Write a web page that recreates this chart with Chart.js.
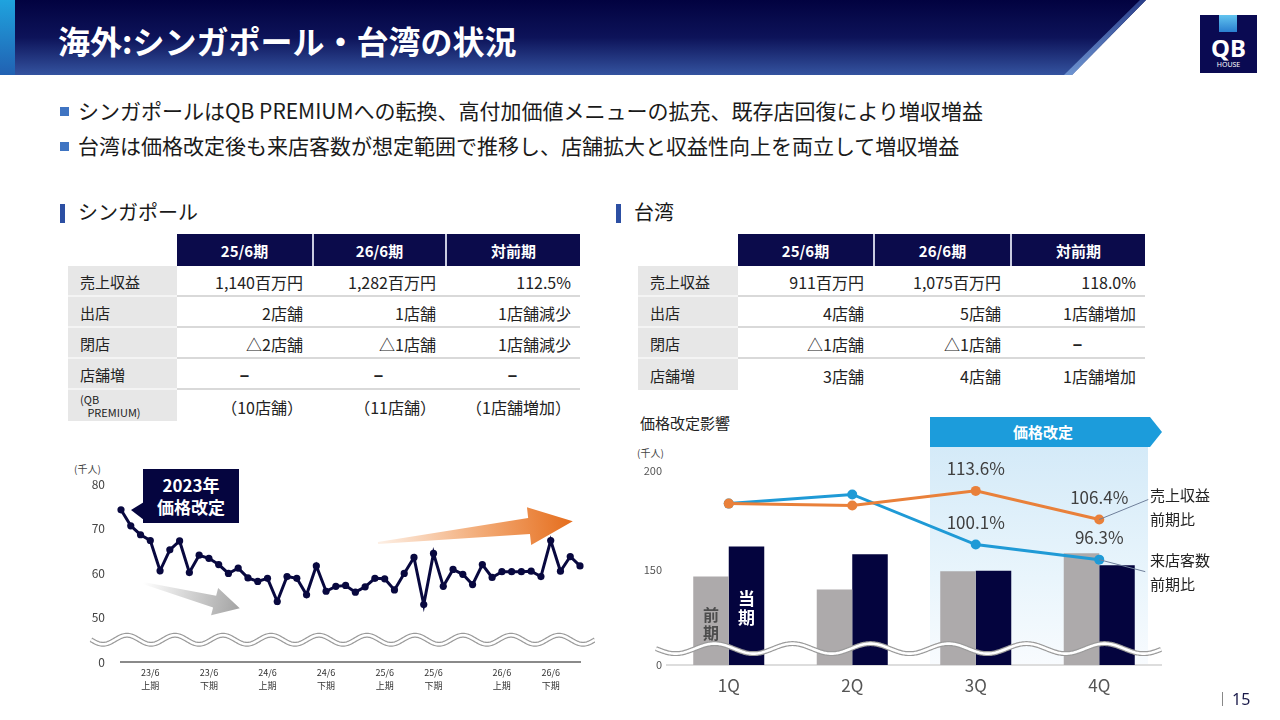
<!DOCTYPE html>
<html lang="ja">
<head>
<meta charset="utf-8">
<script src="https://cdn.jsdelivr.net/npm/chart.js@4.4.1/dist/chart.umd.min.js"></script>
<style>
  body { margin: 0; width: 1280px; height: 720px; overflow: hidden; background: #fff; position: relative;
         font-family: "Noto Sans CJK JP", sans-serif; color: #222; }
  .abs { position: absolute; }
  .title { left: 58px; top: 20px; height: 40px; line-height: 40px; font-size: 32px; font-weight: bold; color: #fff; white-space: nowrap; }
  .bullet { left: 60px; font-size: 21px; line-height: 30px; white-space: nowrap; color: #1a1a1a; }
  .bullet::before { content: ""; display: inline-block; width: 9px; height: 9px; background: #3f74c2; margin-right: 9px; vertical-align: 3px; }
  .sec { font-size: 20px; line-height: 28px; color: #1a1a1a; }
  .sec::before { content: ""; display: inline-block; width: 5px; height: 19px; background: #2c4fa3; margin-right: 13px; vertical-align: -3px; }
  .tbl { display: grid; font-size: 15px; }
  .tbl div { display: flex; align-items: center; white-space: nowrap; box-sizing: border-box; }
  .hd { background: #0b0b4b; color: #fff; font-weight: bold; justify-content: center; }
  .hd.sep { border-left: 2px solid #c9cbe0; }
  .lb { background: #e7e7e7; padding-left: 12px; padding-top: 2px; color: #222; }
  .vl { justify-content: flex-end; padding-right: 9px; padding-top: 2px; color: #222; font-size: 16px; }
  .vl.c { justify-content: center; padding-right: 0; font-weight: bold; }
  .line { border-bottom: 2px solid #d9d9d9; }
  .lb.line { border-bottom: 2px solid #f4f4f4; }
  .small { font-size: 11px; line-height: 13px; display: block !important; padding-top: 3px; }
  canvas { position: absolute; }
</style>
</head>
<body>

<!-- header band -->
<svg class="abs" style="left:0;top:0" width="1280" height="80">
  <defs>
    <linearGradient id="hg" x1="0" y1="0" x2="0" y2="1">
      <stop offset="0" stop-color="#020240"/>
      <stop offset="0.5" stop-color="#0d1359"/>
      <stop offset="1" stop-color="#34539f"/>
    </linearGradient>
    <linearGradient id="sg" x1="0" y1="0" x2="0" y2="1">
      <stop offset="0" stop-color="#1fa3de"/>
      <stop offset="1" stop-color="#2161b2"/>
    </linearGradient>
    <linearGradient id="eg" x1="0" y1="0" x2="0" y2="1">
      <stop offset="0" stop-color="#2a3f8a"/>
      <stop offset="1" stop-color="#6d93d0"/>
    </linearGradient>
  </defs>
  <polygon points="0,0 1146,0 1072,75 0,75" fill="url(#hg)"/>
  <polygon points="1140,0 1146,0 1072,75 1064,75" fill="url(#eg)"/>
  <rect x="0" y="0" width="15" height="75" fill="url(#sg)"/>
</svg>
<div class="abs title">海外:シンガポール・台湾の状況</div>

<!-- logo -->
<div class="abs" style="left:1200px;top:15px;width:57px;height:58px;background:#0a0a52;">
  <div class="abs" style="left:19px;top:0;width:18px;height:17px;background:linear-gradient(#62c4ef,#2a7fd0);"></div>
  <div class="abs" style="left:0;top:20px;width:57px;text-align:center;color:#fff;font:bold 24px/26px 'Noto Sans',sans-serif;">QB</div>
  <div class="abs" style="left:0;top:46px;width:57px;text-align:center;color:#fff;font:7px/8px 'Noto Sans',sans-serif;">HOUSE</div>
</div>

<div class="abs bullet" style="top:95px">シンガポールはQB PREMIUMへの転換、高付加価値メニューの拡充、既存店回復により増収増益</div>
<div class="abs bullet" style="top:130px">台湾は価格改定後も来店客数が想定範囲で推移し、店舗拡大と収益性向上を両立して増収増益</div>

<div class="abs sec" style="left:60px;top:198px">シンガポール</div>
<div class="abs sec" style="left:616px;top:198px">台湾</div>

<div id="sgTable" class="abs tbl" style="left:68px;top:234px;grid-template-columns:109px 135px 133px 135px;grid-template-rows:32px repeat(5,31px);"></div>
<div id="twTable" class="abs tbl" style="left:638px;top:234px;grid-template-columns:100px 135px 137px 135px;grid-template-rows:32px repeat(4,31px);"></div>

<!-- Singapore chart -->
<div class="abs" style="left:74px;top:461px;font-size:10px;color:#444;">(千人)</div>
<canvas id="sgChart" style="left:50px;top:460px;width:545px;height:240px;" width="545" height="240"></canvas>
<svg class="abs" style="left:0;top:440px" width="620" height="200">
  <defs>
    <linearGradient id="ga" x1="0" y1="0" x2="1" y2="0">
      <stop offset="0" stop-color="#ffffff"/>
      <stop offset="1" stop-color="#a3a3a3"/>
    </linearGradient>
    <linearGradient id="oa" x1="0" y1="0" x2="1" y2="0">
      <stop offset="0" stop-color="#fdf0e6"/>
      <stop offset="0.55" stop-color="#f2a872"/>
      <stop offset="1" stop-color="#e56d1c"/>
    </linearGradient>
  </defs>
  <g transform="translate(143,143) rotate(14.6)">
    <polygon points="0,-1 74,-6 74,-14 100,0 74,14 74,6 0,1" fill="url(#ga)"/>
  </g>
  <g transform="translate(378,103) rotate(-6.4)">
    <polygon points="0,-1 152,-8 152,-19 196,0 152,19 152,8 0,1" fill="url(#oa)"/>
  </g>
  <polygon points="131,70 144,62 144,80" fill="#05053f"/>
  <rect x="143" y="29" width="96" height="54" fill="#05053f"/>
  <text x="191" y="52" text-anchor="middle" fill="#fff" font-size="17" font-weight="bold" font-family="Noto Sans CJK JP">2023年</text>
  <text x="191" y="74" text-anchor="middle" fill="#fff" font-size="17" font-weight="bold" font-family="Noto Sans CJK JP">価格改定</text>
</svg>

<!-- Taiwan chart -->
<div class="abs" style="left:640px;top:412px;font-size:15px;color:#222;">価格改定影響</div>
<div class="abs" style="left:930px;top:447px;width:218px;height:218px;background:linear-gradient(#d4eaf8,#e9f5fc 60%,#f8fbfe);"></div>
<svg class="abs" style="left:920px;top:410px" width="260" height="45">
  <polygon points="10,7 230,7 242,22 230,37 10,37" fill="#1c9cdb"/>
  <text x="123" y="28" text-anchor="middle" fill="#fff" font-size="15" font-weight="bold" font-family="Noto Sans CJK JP">価格改定</text>
</svg>
<div class="abs" style="left:637px;top:445px;font-size:10px;color:#444;">(千人)</div>
<canvas id="twChart" style="left:620px;top:440px;width:560px;height:260px;" width="560" height="260"></canvas>
<div class="abs" style="left:1150px;top:483px;font-size:15px;line-height:24px;color:#222;">売上収益<br>前期比</div>
<div class="abs" style="left:1150px;top:548px;font-size:15px;line-height:24px;color:#222;">来店客数<br>前期比</div>

<div class="abs" style="left:1222px;top:692px;width:1px;height:14px;background:#888;"></div>
<div class="abs" style="left:1232px;top:688px;font:16px/22px 'Noto Sans',sans-serif;color:#1a1a4a;">15</div>

<script>
// ---- tables ----
const tableHead = ['25/6期', '26/6期', '対前期'];
const sgRows = [
  ['売上収益', '1,140百万円', '1,282百万円', '112.5%'],
  ['出店', '2店舗', '1店舗', '1店舗減少'],
  ['閉店', '△2店舗', '△1店舗', '1店舗減少'],
  ['店舗増', '−', '−', '−'],
  ['(QB PREMIUM)', '（10店舗）', '（11店舗）', '（1店舗増加）'],
];
const twRows = [
  ['売上収益', '911百万円', '1,075百万円', '118.0%'],
  ['出店', '4店舗', '5店舗', '1店舗増加'],
  ['閉店', '△1店舗', '△1店舗', '−'],
  ['店舗増', '3店舗', '4店舗', '1店舗増加'],
];

// ---- Singapore monthly visitors (千人) ----
const sgVisitors = [
  74.2, 70.6, 68.6, 67.3, 60.5, 65.2, 67.2, 60.1, 64.0, 63.3, 61.9, 59.9,
  61.1, 58.9, 58.1, 58.8, 53.6, 59.2, 58.8, 55.1, 61.6, 55.9, 57.0, 57.2,
  55.7, 56.9, 58.8, 58.7, 56.2, 59.9, 63.5, 52.9, 64.4, 57.0, 60.8, 59.7,
  57.4, 61.9, 59.0, 60.3, 60.3, 60.3, 60.4, 59.2, 67.3, 60.4, 63.7, 61.6,
];
const sgHalfLabels = [
  ['23/6', '上期'], ['23/6', '下期'], ['24/6', '上期'], ['24/6', '下期'],
  ['25/6', '上期'], ['25/6', '下期'], ['26/6', '上期'], ['26/6', '下期'],
];
const sgHalfLabelAt = [3, 9, 15, 21, 27, 32, 39, 44];

// ---- Taiwan quarterly ----
const twQuarters = ['1Q', '2Q', '3Q', '4Q'];
const twVisitorsPrev = [146.5, 140.0, 149.2, 158.3];
const twVisitorsCurr = [161.8, 157.8, 149.4, 152.3];
const twSalesYoY = [110.4, 109.9, 113.6, 106.4];
const twVisitorsYoY = [110.4, 112.7, 100.1, 96.3];
const twRevisionFrom = 2; // price revision from 3Q

function renderTable(el, rows) {
  let html = '<div></div>' + tableHead.map((h, i) => `<div class="hd${i ? ' sep' : ''}">${h}</div>`).join('');
  rows.forEach((r, ri) => {
    const line = ri < rows.length - 1 ? ' line' : '';
    if (r[0].startsWith('(')) {
      html += `<div class="lb small${line}">(QB<br>&nbsp;&nbsp;&nbsp;PREMIUM)</div>`;
    } else {
      html += `<div class="lb${line}">${r[0]}</div>`;
    }
    r.slice(1).forEach((v) => {
      html += `<div class="vl${v === '−' ? ' c' : ''}${line}">${v}</div>`;
    });
  });
  el.innerHTML = html;
}
renderTable(document.getElementById('sgTable'), sgRows);
renderTable(document.getElementById('twTable'), twRows);

Chart.defaults.font.family = '"Noto Sans CJK JP", sans-serif';
Chart.defaults.animation = false;

function wavePath(ctx, x0, x1, y, amp, period) {
  ctx.beginPath();
  for (let x = x0; x <= x1; x += 1) {
    const yy = y + amp * Math.sin(((x - x0) / period) * 2 * Math.PI);
    if (x === x0) ctx.moveTo(x, yy); else ctx.lineTo(x, yy);
  }
}
function drawBreak(ctx, x0, x1, y, amp, period) {
  ctx.save();
  wavePath(ctx, x0, x1, y, amp, period);
  ctx.strokeStyle = '#9a9a9a';
  ctx.lineWidth = 5;
  ctx.stroke();
  wavePath(ctx, x0, x1, y, amp, period);
  ctx.strokeStyle = '#ffffff';
  ctx.lineWidth = 2.6;
  ctx.stroke();
  ctx.restore();
}

const sgLabels = sgVisitors.map((_, i) => {
  const k = sgHalfLabelAt.indexOf(i);
  return k >= 0 ? sgHalfLabels[k] : '';
});

new Chart(document.getElementById('sgChart'), {
  type: 'line',
  data: {
    labels: sgLabels,
    datasets: [{
      data: sgVisitors,
      borderColor: '#08083f',
      backgroundColor: '#08083f',
      borderWidth: 3,
      pointRadius: 3.6,
      pointBorderWidth: 0,
      tension: 0,
    }],
  },
  options: {
    responsive: false,
    layout: { padding: { left: 21, right: 15, top: 24, bottom: 0 } },
    plugins: { legend: { display: false }, tooltip: { enabled: false } },
    scales: {
      x: {
        offset: false,
        grid: { display: false, drawTicks: false },
        border: { color: '#8a8a8a', width: 2 },
        ticks: { autoSkip: false, maxRotation: 0, padding: 5, color: '#333', font: { size: 9, lineHeight: 1.35 } },
        afterFit: (s) => { s.height = 38; },
      },
      y: {
        min: 40,
        max: 80,
        grid: { display: false, drawTicks: false },
        border: { display: false },
        ticks: { stepSize: 10, padding: 16, color: '#444', font: { size: 12 },
                 callback: (v) => (v === 40 ? '0' : v) },
        afterFit: (s) => { s.width = 50; },
      },
    },
  },
  plugins: [{
    id: 'sgBreak',
    afterDraw(chart) {
      const y = chart.scales.y.getPixelForValue(45);
      drawBreak(chart.ctx, 41, chart.width, y, 4.5, 48);
    },
  }],
});

new Chart(document.getElementById('twChart'), {
  type: 'bar',
  data: {
    labels: twQuarters,
    datasets: [
      { type: 'line', label: '売上収益前期比', data: twSalesYoY, yAxisID: 'y2', order: 0,
        borderColor: '#e9803a', backgroundColor: '#e9803a', borderWidth: 3, pointRadius: 5, pointBorderWidth: 0 },
      { type: 'line', label: '来店客数前期比', data: twVisitorsYoY, yAxisID: 'y2', order: 0,
        borderColor: '#1f9ad6', backgroundColor: '#1f9ad6', borderWidth: 3, pointRadius: 5, pointBorderWidth: 0 },
      { label: '前期', data: twVisitorsPrev, backgroundColor: '#adaaab', order: 1,
        categoryPercentage: 0.575, barPercentage: 1.0 },
      { label: '当期', data: twVisitorsCurr, backgroundColor: '#04043e', order: 1,
        categoryPercentage: 0.575, barPercentage: 1.0 },
    ],
  },
  options: {
    responsive: false,
    layout: { padding: { left: 7, right: 19, top: 31, bottom: 0 } },
    plugins: { legend: { display: false }, tooltip: { enabled: false } },
    scales: {
      x: {
        grid: { display: false, drawTicks: false },
        border: { color: '#dddddd', width: 2 },
        ticks: { padding: 10, color: '#555', font: { size: 17 } },
        afterFit: (s) => { s.height = 35; },
      },
      y: {
        min: 101.7,
        max: 200,
        grid: { display: false, drawTicks: false },
        border: { display: false },
        afterBuildTicks: (s) => { s.ticks = [101.7, 150, 200].map((v) => ({ value: v })); },
        ticks: { padding: 5, color: '#555', font: { size: 11 },
                 callback: (v) => (v < 150 ? '0' : v) },
        afterFit: (s) => { s.width = 40; },
      },
      y2: { display: false, min: 69.8, max: 118.6 },
    },
  },
  plugins: [{
    id: 'twDecor',
    afterDatasetsDraw(chart) {
      const { ctx, chartArea } = chart;
      const yBreak = chart.scales.y.getPixelForValue(110);
      drawBreak(ctx, chartArea.left - 11, chartArea.right, yBreak, 5, 78);

      ctx.save();
      // 前期 / 当期 vertical captions on the 1Q bars
      const prevBar = chart.getDatasetMeta(2).data[0];
      const currBar = chart.getDatasetMeta(3).data[0];
      const b = chartArea.bottom;
      ctx.textAlign = 'center';
      ctx.textBaseline = 'middle';
      ctx.font = 'bold 16px "Noto Sans CJK JP"';
      ctx.fillStyle = '#4d4d4d';
      ctx.fillText('前', prevBar.x, b - 50);
      ctx.fillText('期', prevBar.x, b - 32);
      ctx.font = 'bold 17px "Noto Sans CJK JP"';
      ctx.fillStyle = '#ffffff';
      ctx.fillText('当', currBar.x, b - 66);
      ctx.fillText('期', currBar.x, b - 47);

      // value labels from the revision quarter onward
      ctx.font = '17px "Noto Sans CJK JP"';
      ctx.fillStyle = '#404040';
      [0, 1].forEach((di) => {
        const meta = chart.getDatasetMeta(di);
        const vals = chart.data.datasets[di].data;
        for (let i = twRevisionFrom; i < vals.length; i++) {
          const p = meta.data[i];
          ctx.fillText(vals[i].toFixed(1) + '%', p.x, p.y - 22);
        }
      });

      // leader lines to the side captions
      const s = chart.getDatasetMeta(0).data[3];
      const v = chart.getDatasetMeta(1).data[3];
      ctx.strokeStyle = '#6f7f9a';
      ctx.lineWidth = 1;
      ctx.beginPath();
      ctx.moveTo(s.x, s.y);
      ctx.lineTo(s.x + 49, s.y - 20);
      ctx.moveTo(v.x, v.y);
      ctx.lineTo(v.x + 46, v.y + 12);
      ctx.stroke();
      ctx.restore();
    },
  }],
});
</script>
</body>
</html>
